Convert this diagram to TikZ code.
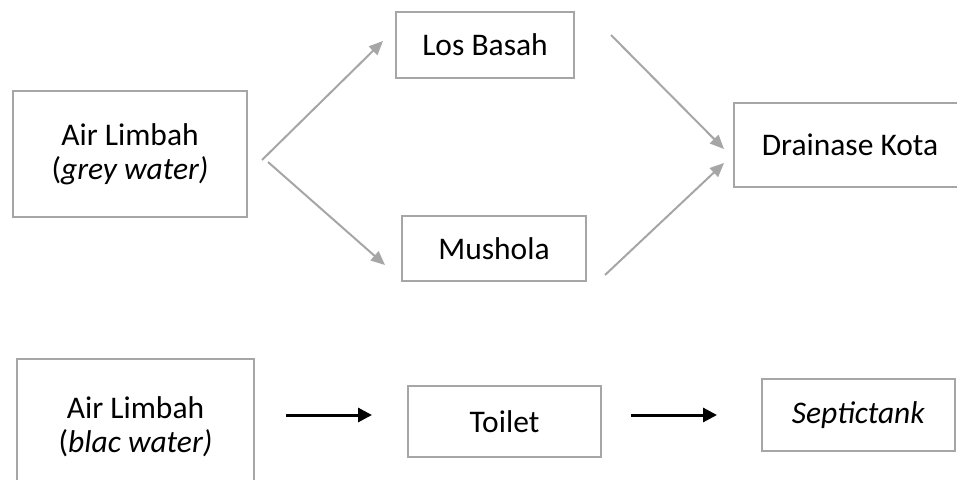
\documentclass[tikz,border=0pt]{standalone}
\usepackage{fontspec}
\setmainfont{Carlito}
\usetikzlibrary{arrows.meta}
\definecolor{boxgray}{HTML}{A6A6A6}
\tikzset{
  flowbox/.style={draw=boxgray, line width=1.8pt, fill=white, align=center,
    inner sep=0pt, font=\fontsize{31.5}{34}\selectfont},
  greyflow/.style={draw=boxgray, line width=2pt,
    -{Triangle[length=14pt,width=12pt]}},
  blackflow/.style={draw=black, line width=3pt,
    -{Triangle[length=14pt,width=14pt]}}
}
\begin{document}
\begin{tikzpicture}[x=1pt,y=-1pt]
  \useasboundingbox (0,0) rectangle (957,479);
  \clip (0,0) rectangle (957,479);

  % grey water branch
  \node[flowbox, minimum width=234pt, minimum height=126pt] (grey) at (130,154)
    {Air Limbah\\(\textit{grey water)}};
  \node[flowbox, minimum width=178pt, minimum height=66pt] (los) at (485,45) {Los Basah};
  \node[flowbox, minimum width=184pt, minimum height=65pt] (mus) at (494,248.5) {Mushola};
  \node[flowbox, minimum width=232pt, minimum height=84pt] (drain) at (850,145) {Drainase Kota};

  \coordinate (g1) at (262,160);
  \coordinate (g1e) at (383,41);
  \coordinate (g2) at (268,162);
  \coordinate (g2e) at (385,265);
  \coordinate (d1) at (611,35);
  \coordinate (d1e) at (724,149);
  \coordinate (d2) at (605,275);
  \coordinate (d2e) at (724,163);

  \draw[greyflow] (g1) -- (g1e);
  \draw[greyflow] (g2) -- (g2e);
  \draw[greyflow] (d1) -- (d1e);
  \draw[greyflow] (d2) -- (d2e);

  % black water branch
  \node[flowbox, minimum width=237pt, minimum height=136pt] (black) at (135.5,427)
    {Air Limbah\\(\textit{blac water)}};
  \node[flowbox, minimum width=193pt, minimum height=71pt] (toilet) at (504.5,421.5) {Toilet};
  \node[flowbox, minimum width=193pt, minimum height=72pt] (septic) at (858.5,415) {\textit{Septictank}};

  \coordinate (b1) at (286,415);
  \coordinate (b1e) at (372,415);
  \coordinate (b2) at (631,415);
  \coordinate (b2e) at (717,415);
  \draw[blackflow] (b1) -- (b1e);
  \draw[blackflow] (b2) -- (b2e);
\end{tikzpicture}
\end{document}
